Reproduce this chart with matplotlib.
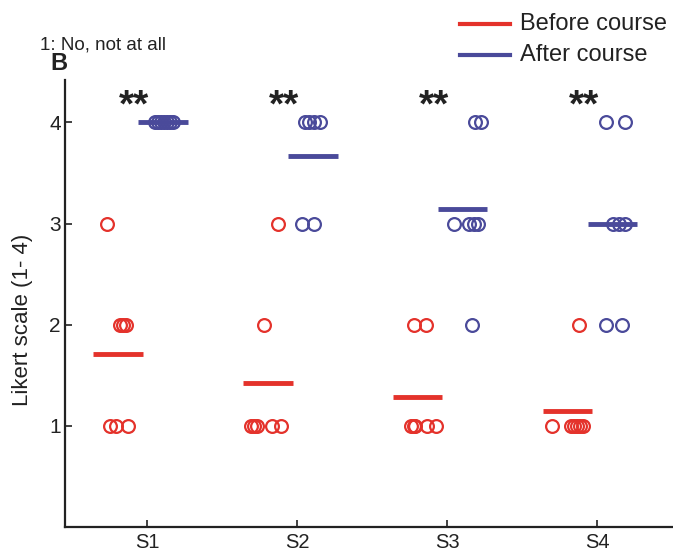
import numpy as np
import matplotlib
matplotlib.use("Agg")
from matplotlib import pyplot as plt

plt.rcParams['font.family'] = ['Liberation Sans', 'DejaVu Sans']

statements = ["S1", "S2", "S3", "S4"]
before_vals = [
    [3, 2, 2, 2, 1, 1, 1],
    [3, 2, 1, 1, 1, 1, 1],
    [2, 2, 1, 1, 1, 1, 1],
    [2, 1, 1, 1, 1, 1, 1],
]
after_vals = [
    [4, 4, 4, 4, 4, 4, 4],
    [4, 4, 4, 4, 3, 3],
    [4, 4, 3, 3, 3, 3, 2],
    [4, 4, 3, 3, 3, 2, 2],
]
# horizontal scatter of each circle (offset from the tick)
before_jit = [
    [-0.27, -0.18, -0.16, -0.14, -0.25, -0.21, -0.13],
    [-0.13, -0.22, -0.31, -0.29, -0.27, -0.17, -0.11],
    [-0.22, -0.14, -0.24, -0.22, -0.21, -0.13, -0.07],
    [-0.12, -0.30, -0.17, -0.15, -0.13, -0.11, -0.09],
]
after_jit = [
    [0.05, 0.07, 0.09, 0.11, 0.13, 0.15, 0.17],
    [0.05, 0.08, 0.11, 0.15, 0.03, 0.11],
    [0.19, 0.23, 0.05, 0.15, 0.18, 0.21, 0.17],
    [0.06, 0.19, 0.11, 0.15, 0.19, 0.06, 0.17],
]
signif = ["**", "**", "**", "**"]

red = "#e4322b"
blue = "#4a4a9a"
ink = "#222222"

fig = plt.figure(figsize=(6.73, 5.52), dpi=100)
ax = fig.add_axes([65/673, 25/552, 608/673, 447/552])

x = np.arange(1, len(statements) + 1)
for i in range(len(statements)):
    ax.plot(x[i] + np.array(before_jit[i]), before_vals[i], 'o', mfc='none',
            mec=red, ms=9.2, mew=1.6)
    ax.plot(x[i] + np.array(after_jit[i]), after_vals[i], 'o', mfc='none',
            mec=blue, ms=9.2, mew=1.6)
    mb = np.mean(before_vals[i])
    ma = np.mean(after_vals[i])
    ax.plot([x[i] - 0.36, x[i] - 0.03], [mb, mb], color=red, lw=3.5, solid_capstyle='butt')
    ax.plot([x[i] - 0.06, x[i] + 0.27], [ma, ma], color=blue, lw=3.5, solid_capstyle='butt')
    ax.text(x[i] - 0.087, 4.06, signif[i], ha='center', va='baseline', fontsize=28,
            fontweight='bold', color=ink)

ax.set_xlim(0.453, 4.507)
ax.set_ylim(0, 4.42)
ax.set_xticks(x)
ax.set_xticklabels(statements)
ax.set_yticks([1, 2, 3, 4])
ax.tick_params(direction='in', length=5, width=1.2, colors=ink)
ax.tick_params(axis='x', pad=4, labelsize=14.5)
ax.tick_params(axis='y', pad=3, labelsize=15)
ax.spines['top'].set_visible(False)
ax.spines['right'].set_visible(False)
for s in ['left', 'bottom']:
    ax.spines[s].set_linewidth(1.6)
    ax.spines[s].set_color(ink)
ax.set_ylabel("Likert scale (1- 4)", fontsize=16, color=ink)
ax.yaxis.set_label_coords(-0.053, 0.463)

fig.text(40/673, 1 - 45/552, "1: No, not at all", fontsize=13.5, va='center', color=ink)
fig.text(50/673, 1 - 63.5/552, "B", fontsize=17, fontweight='bold', va='center', color=ink)

# legend drawn by hand in figure coordinates
fig.lines.append(plt.Line2D([460/673, 510/673], [1 - 24/552, 1 - 24/552], color=red, lw=3,
                            transform=fig.transFigure))
fig.lines.append(plt.Line2D([460/673, 510/673], [1 - 55/552, 1 - 55/552], color=blue, lw=3,
                            transform=fig.transFigure))
fig.text(520/673, 1 - 24/552, "Before course", fontsize=17, va='center', color=ink)
fig.text(520/673, 1 - 55/552, "After course", fontsize=17, va='center', color=ink)

plt.savefig('out.png', dpi=100)
